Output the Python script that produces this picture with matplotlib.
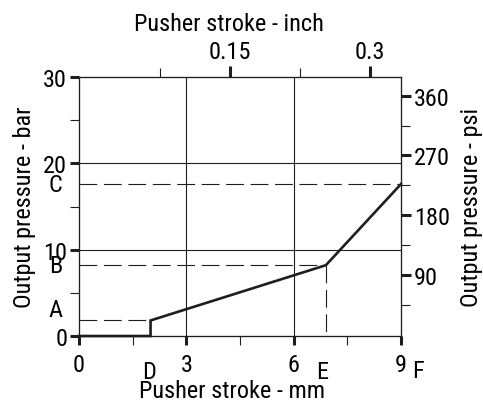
import matplotlib
matplotlib.use("Agg")
import matplotlib.pyplot as plt

plt.rcParams['font.family'] = ['Roboto Condensed', 'DejaVu Sans']
plt.rcParams['font.size'] = 17.5

# characteristic: pusher stroke (mm) vs output pressure (bar)
stroke_mm = [0.0, 2.0, 2.0, 6.9, 9.0]
pressure_bar = [0.0, 0.0, 1.8, 8.2, 17.6]

# marked points
A, B, C = 1.8, 8.2, 17.6
D, E, F = 2.0, 6.9, 9.0

mm_ticks = [0, 3, 6, 9]
mm_minor = [1.5, 4.5, 7.5]
bar_ticks = [0, 10, 20, 30]
bar_minor = [5, 15, 25]
psi_ticks = [90, 180, 270, 360]
psi_minor = [45, 135, 225, 315]
inch_ticks = [0.15, 0.3]
inch_minor = [0.075, 0.225]

ink = '#1e1e1e'

fig = plt.figure(figsize=(4.83, 4.02), dpi=100)
ax = fig.add_axes([79/483, 65/402, 322/483, 259/402])

ax.set_xlim(0, 9)
ax.set_ylim(0, 30)

# grid
for x in [3, 6]:
    ax.axvline(x, color=ink, lw=0.8)
for y in [10, 20]:
    ax.axhline(y, color=ink, lw=0.8)

# dashed guide lines
dash = (16, 6)
ax.plot([0, D], [A, A], color=ink, lw=0.8, dashes=dash)
ax.plot([0, E], [B, B], color=ink, lw=0.8, dashes=dash)
ax.plot([E, E], [B, 0], color=ink, lw=0.8, dashes=dash)
ax.plot([0, F], [C, C], color=ink, lw=0.8, dashes=dash)

# curve
ax.plot(stroke_mm, pressure_bar, color=ink, lw=1.9, clip_on=False,
        solid_joinstyle='miter', zorder=5)

for s in ax.spines.values():
    s.set_color(ink)
    s.set_linewidth(0.8)

ax.set_xticks(mm_ticks)
ax.set_xticks(mm_minor, minor=True)
ax.set_yticks(bar_ticks)
ax.set_yticks(bar_minor, minor=True)
ax.tick_params(which='major', direction='out', length=6.5, width=2.2, color=ink)
ax.tick_params(which='minor', direction='out', length=6.5, width=0.8, color=ink)
ax.tick_params(axis='x', pad=5.5)
ax.tick_params(axis='y', pad=2)
ax.set_xticklabels([str(v) for v in mm_ticks])
ax.set_yticklabels([str(v) for v in bar_ticks])
ax.set_xlabel('Pusher stroke - mm', labelpad=2.5, x=0.475)
ax.set_ylabel('Output pressure - bar', labelpad=5)

# letter markers on the axes
for lab, y, dy in [('A', A, 8), ('B', B, 0), ('C', C, 0)]:
    ax.annotate(lab, (0, y), xytext=(-12, dy), textcoords='offset points',
                ha='right', va='center', annotation_clip=False)
for lab, x, dx, dy in [('D', D, -1, -17.5), ('E', E, -3, -17.5), ('F', F, 12, -16.5)]:
    ax.annotate(lab, (x, 0), xytext=(dx, dy), textcoords='offset points',
                ha='center', va='top', annotation_clip=False)

# psi scale on the right
axr = ax.twinx()
axr.set_ylim(-1.8, 388.2)
axr.set_yticks(psi_ticks)
axr.set_yticks(psi_minor, minor=True)
axr.tick_params(which='major', direction='out', length=7.5, width=2.2, color=ink, pad=2)
axr.tick_params(which='minor', direction='out', length=6.5, width=0.8, color=ink)
axr.set_ylabel('Output pressure - psi', rotation=90, labelpad=7)
for s in axr.spines.values():
    s.set_color(ink)
    s.set_linewidth(0.8)

# inch scale on top
axt = ax.twiny()
axt.set_xlim(-0.0123, 0.333)
axt.set_xticks(inch_ticks)
axt.set_xticks(inch_minor, minor=True)
axt.set_xticklabels(['0.15', '0.3'])
axt.tick_params(which='major', direction='out', length=8, width=2.2, color=ink, pad=2)
axt.tick_params(which='minor', direction='out', length=6.5, width=0.8, color=ink)
axt.set_xlabel('Pusher stroke - inch', labelpad=7, x=0.466)
for s in axt.spines.values():
    s.set_color(ink)
    s.set_linewidth(0.8)

fig.savefig('out.png', dpi=100)
